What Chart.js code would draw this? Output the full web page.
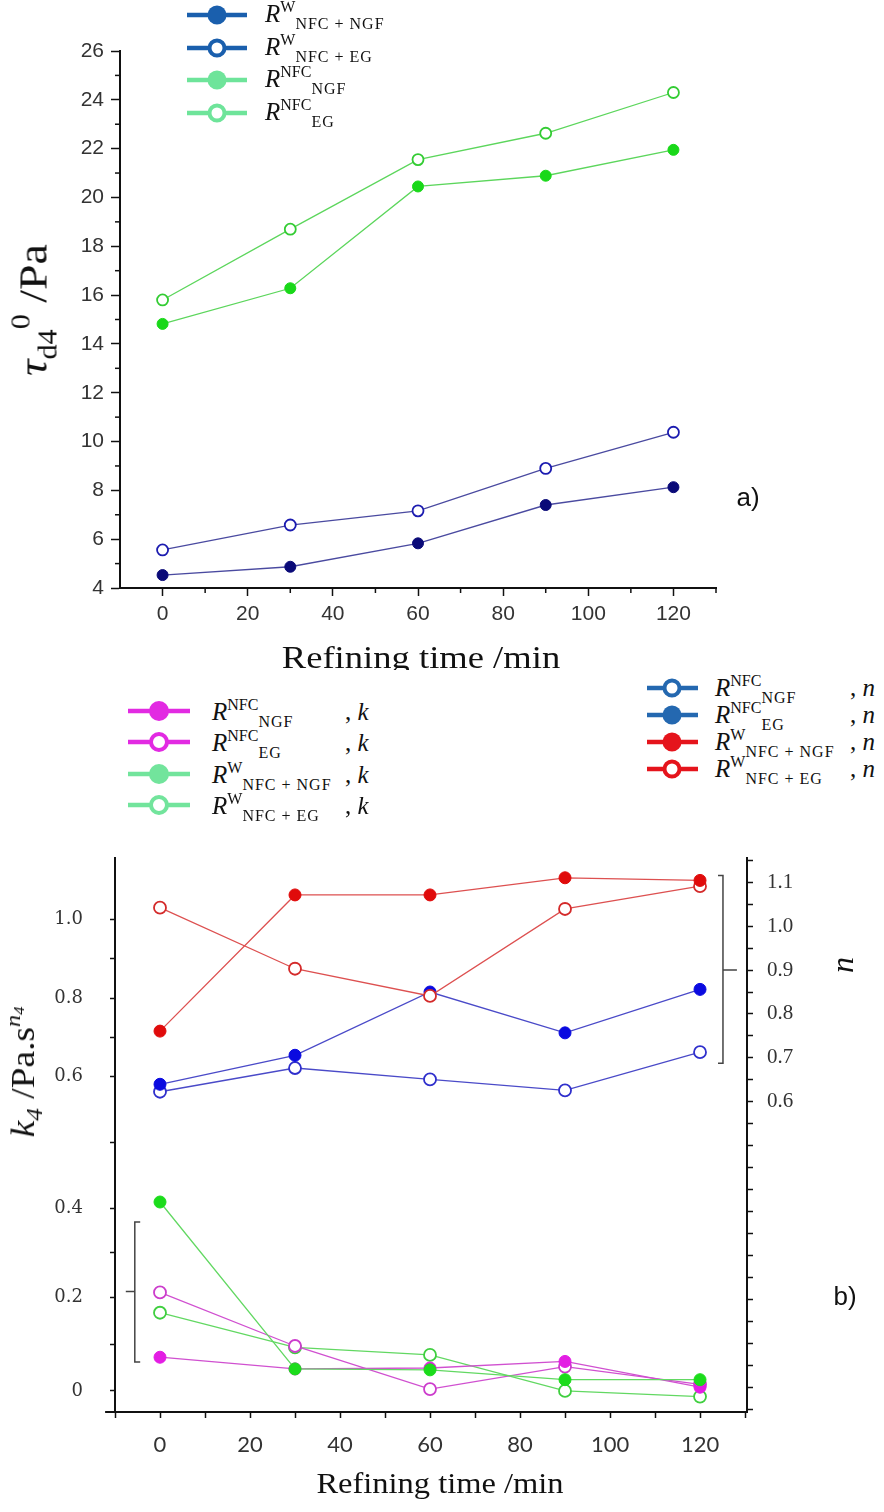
<!DOCTYPE html>
<html>
<head>
<meta charset="utf-8">
<script src="https://cdn.jsdelivr.net/npm/chart.js@4.4.0/dist/chart.umd.min.js"></script>
<style>
  body { margin: 0; background: #fff; }
  #page { position: relative; width: 884px; height: 1512px; overflow: hidden; background: #fff;
          font-family: 'Liberation Serif', 'Times New Roman', serif; color: #111; }
  canvas { position: absolute; left: 0; }
  #topChart { top: 0; }
  #botChart { top: 820px; }
  .lbl { position: absolute; font-size: 25px; line-height: 30px; white-space: nowrap; }
  .sup { font-size: 16px; position: relative; top: -10px; }
  .sub { font-size: 16px; position: relative; top: 7px; letter-spacing: 1px; }
  .title { position: absolute; white-space: nowrap; line-height: 1; }
  .clip { position: absolute; left: 0; width: 884px; overflow: hidden; }
</style>
</head>
<body>
<div id="page">
  <canvas id="topChart" width="884" height="640"></canvas>
  <canvas id="botChart" width="884" height="650"></canvas>

  <div class="clip" style="top:636px;height:34px;">
    <div class="title" style="left:421px;top:6px;font-size:31px;transform:translateX(-50%) scaleX(1.18);">Refining time /min</div>
  </div>
  <div class="title" style="left:440px;top:1469px;font-size:29px;transform:translateX(-50%) scaleX(1.12);">Refining time /min</div>

  <div class="title" style="left:33px;top:310px;font-size:41px;transform:translate(-50%,-50%) rotate(-90deg) scaleX(1.12);"><i>τ</i><span style="font-size:27px;position:relative;top:10px;">d4</span><span style="font-size:27px;position:relative;top:-17px;">0</span> /Pa</div>
  <div class="title" style="left:23px;top:1072px;font-size:34px;transform:translate(-50%,-50%) rotate(-90deg) scaleX(1.1);"><i>k</i><span style="font-size:23px;position:relative;top:8px;"><i>4</i></span> /Pa.s<span style="font-size:22px;position:relative;top:-14px;"><i>n</i><span style="font-size:15px;position:relative;top:4px;"><i>4</i></span></span></div>
  <div class="title" style="left:842px;top:965px;font-size:32px;transform:translate(-50%,-50%) rotate(-90deg);"><i>n</i></div>

  <div class="title" style="left:748px;top:497px;font-size:26px;font-family:'Liberation Sans',Arial,sans-serif;transform:translate(-50%,-50%);">a)</div>
  <div class="title" style="left:845px;top:1296px;font-size:26px;font-family:'Liberation Sans',Arial,sans-serif;transform:translate(-50%,-50%);">b)</div>
</div>

<script>
// ===== DATA =====
const times = [0, 30, 60, 90, 120];

// panel a) yield stress
const tauWNgf   = [4.53, 4.87, 5.83, 7.40, 8.13];
const tauWEg    = [5.56, 6.58, 7.16, 8.90, 10.38];
const tauNfcNgf = [14.82, 16.28, 20.45, 20.89, 21.95];
const tauNfcEg  = [15.80, 18.70, 21.55, 22.63, 24.30];

// panel b) consistency index k
const kNfcNgf = [0.072, 0.047, 0.049, 0.063, 0.008];
const kNfcEg  = [0.211, 0.096, 0.004, 0.052, 0.014];
const kWNgf   = [0.41, 0.047, 0.045, 0.024, 0.024];
const kWEg    = [0.167, 0.093, 0.077, 0.000, -0.012];

// panel b) flow index n
const nNfcNgf = [0.623, 0.677, 0.651, 0.626, 0.713];
const nNfcEg  = [0.640, 0.706, 0.850, 0.757, 0.856];
const nWNgf   = [0.761, 1.071, 1.071, 1.110, 1.104];
const nWEg    = [1.042, 0.903, 0.841, 1.039, 1.091];

// tick labels
const xTickLabels = [0, 20, 40, 60, 80, 100, 120];
const tauTickLabels = [4, 6, 8, 10, 12, 14, 16, 18, 20, 22, 24, 26];
const kTickLabels = ['0', '0.2', '0.4', '0.6', '0.8', '1.0'];
const nTickLabels = ['0.6', '0.7', '0.8', '0.9', '1.0', '1.1'];

// legend names
const tauSup = ['W', 'W', 'NFC', 'NFC'];
const tauSub = ['NFC + NGF', 'NFC + EG', 'NGF', 'EG'];
const kSup = ['NFC', 'NFC', 'W', 'W'];
const kSub = ['NGF', 'EG', 'NFC + NGF', 'NFC + EG'];
const nSup = ['NFC', 'NFC', 'W', 'W'];
const nSub = ['NGF', 'EG', 'NFC + NGF', 'NFC + EG'];

// left axis of b) is drawn with uneven spacing in the original figure
const kAxisBreakValues = [0, 0.2, 0.4, 0.6, 0.8, 1.0];
const kAxisBreakFrac   = [0.038, 0.207, 0.367, 0.605, 0.746, 0.889];

// ===== HELPERS =====
const pts = arr => times.map((t, i) => ({ x: t, y: arr[i] }));
const range = (a, b, s) => { const out = []; for (let v = a; v <= b + 1e-9; v += s) out.push(Math.round(v * 1000) / 1000); return out; };

function interp(v, xs, ys) {
  let i = 0;
  if (v <= xs[0]) i = 0;
  else if (v >= xs[xs.length - 1]) i = xs.length - 2;
  else while (v > xs[i + 1]) i++;
  return ys[i] + (v - xs[i]) * (ys[i + 1] - ys[i]) / (xs[i + 1] - xs[i]);
}

class BrokenScale extends Chart.LinearScale {
  getPixelForValue(value) {
    if (value === null || value === undefined || isNaN(value)) return NaN;
    return this.getPixelForDecimal(interp(value, kAxisBreakValues, kAxisBreakFrac));
  }
  getValueForPixel(pixel) {
    return interp(this.getDecimalForPixel(pixel), kAxisBreakFrac, kAxisBreakValues);
  }
}
BrokenScale.id = 'broken';
BrokenScale.defaults = Chart.LinearScale.defaults;
Chart.register(BrokenScale);

function series(label, data, color, line, filled, yAxisID, r) {
  return {
    label, data: pts(data), yAxisID,
    borderColor: line, borderWidth: 1.3,
    pointBackgroundColor: filled ? color : '#fff',
    pointBorderColor: color, pointBorderWidth: filled ? 1 : 1.8,
    pointRadius: r, pointHoverRadius: r,
    tension: 0, clip: false
  };
}

// minor ticks (panel a)
const minorTicks = {
  id: 'minorTicks',
  afterDraw(chart, args, opts) {
    const ctx = chart.ctx;
    ctx.save();
    ctx.strokeStyle = '#111';
    ctx.lineWidth = 1.5;
    (opts.list || []).forEach(m => {
      const sc = chart.scales[m.axis];
      m.values.forEach(v => {
        const p = sc.getPixelForValue(v);
        ctx.beginPath();
        if (sc.isHorizontal()) { ctx.moveTo(p, sc.top); ctx.lineTo(p, sc.top + m.len); }
        else { ctx.moveTo(sc.right, p); ctx.lineTo(sc.right - m.len, p); }
        ctx.stroke();
      });
    });
    ctx.restore();
  }
};

// brackets grouping the k and n curves, plus the x axis stub left of the k axis (panel b)
const brackets = {
  id: 'brackets',
  afterDraw(chart, args, opts) {
    const ctx = chart.ctx;
    const xs = chart.scales.x;
    ctx.save();
    ctx.strokeStyle = '#111';
    ctx.lineWidth = 2;
    ctx.beginPath();
    ctx.moveTo(xs.getPixelForValue(opts.stubFrom), xs.top);
    ctx.lineTo(xs.left, xs.top);
    ctx.stroke();
    ctx.strokeStyle = '#444';
    ctx.lineWidth = 1.5;
    (opts.list || []).forEach(b => {
      const ys = chart.scales[b.axis];
      const x = xs.getPixelForValue(b.x), xh = xs.getPixelForValue(b.hook), xt = xs.getPixelForValue(b.tip);
      const y1 = ys.getPixelForValue(b.y1), y2 = ys.getPixelForValue(b.y2), yt = ys.getPixelForValue(b.yTip);
      ctx.beginPath();
      ctx.moveTo(xh, y1); ctx.lineTo(x, y1); ctx.lineTo(x, y2); ctx.lineTo(xh, y2);
      ctx.moveTo(x, yt); ctx.lineTo(xt, yt);
      ctx.stroke();
    });
    ctx.restore();
  }
};

const axisLine = { display: true, color: '#111', width: 2 };
const sansNarrow = "'Liberation Sans Narrow', 'Liberation Sans', Arial, sans-serif";

// ===== PANEL A =====
new Chart(document.getElementById('topChart'), {
  type: 'line',
  data: {
    datasets: [
      series('tauWNgf', tauWNgf, '#0a0a78', '#4a4aa0', true, 'y', 5.5),
      series('tauWEg', tauWEg, '#1c1cb0', '#4a4aa0', false, 'y', 5.5),
      series('tauNfcNgf', tauNfcNgf, '#19d819', '#5cd65c', true, 'y', 5.5),
      series('tauNfcEg', tauNfcEg, '#33cc33', '#5cd65c', false, 'y', 5.5)
    ]
  },
  options: {
    responsive: false,
    animation: false,
    layout: { padding: { top: 51, right: 168, left: 0, bottom: 0 } },
    plugins: {
      legend: { display: false },
      tooltip: { enabled: false },
      minorTicks: {
        list: [
          { axis: 'x', values: [10, 30, 50, 70, 90, 110, 130], len: 5 },
          { axis: 'y', values: range(5, 25, 2), len: 5 }
        ]
      }
    },
    scales: {
      x: {
        type: 'linear', min: -10, max: 130,
        afterBuildTicks: s => { s.ticks = xTickLabels.map(v => ({ value: v })); },
        afterFit: s => { s.height = 52; },
        border: axisLine,
        grid: { drawOnChartArea: false, tickLength: 8, tickColor: '#111', tickWidth: 1.5 },
        ticks: { autoSkip: false, maxRotation: 0, padding: 6, color: '#333',
                 font: { family: sansNarrow, size: 21 }, callback: v => String(v) }
      },
      y: {
        type: 'linear', min: 4, max: 26,
        afterBuildTicks: s => { s.ticks = tauTickLabels.map(v => ({ value: v })); },
        afterFit: s => { s.width = 120; },
        border: axisLine,
        grid: { drawOnChartArea: false, tickLength: 9, tickColor: '#111', tickWidth: 1.5 },
        ticks: { autoSkip: false, padding: 7, color: '#333',
                 font: { family: sansNarrow, size: 21 }, callback: v => String(v) }
      }
    }
  },
  plugins: [minorTicks]
});

// ===== PANEL B =====
new Chart(document.getElementById('botChart'), {
  type: 'line',
  data: {
    datasets: [
      series('nWNgf', nWNgf, '#e00b0b', '#dd5050', true, 'yn', 6),
      series('nWEg', nWEg, '#d42a2a', '#dd5050', false, 'yn', 6),
      series('nNfcEg', nNfcEg, '#0a0ae0', '#4a4ac8', true, 'yn', 6),
      series('nNfcNgf', nNfcNgf, '#2f2fcc', '#4a4ac8', false, 'yn', 6),
      series('kWNgf', kWNgf, '#1bdc1b', '#62d862', true, 'yk', 6),
      series('kNfcNgf', kNfcNgf, '#e31de3', '#d050d0', true, 'yk', 6),
      series('kNfcEg', kNfcEg, '#cc3ccc', '#d050d0', false, 'yk', 6),
      series('kWEg', kWEg, '#3fcf3f', '#62d862', false, 'yk', 6)
    ]
  },
  options: {
    responsive: false,
    animation: false,
    layout: { padding: { top: 17, right: 0, left: 0, bottom: 0 } },
    plugins: {
      legend: { display: false },
      tooltip: { enabled: false },
      brackets: {
        stubFrom: -12.2,
        list: [
          { axis: 'yn', x: 125.1, hook: 124.0, tip: 128.2, y1: 1.115, y2: 0.688, yTip: 0.9 },
          { axis: 'yk', x: -5.6, hook: -4.4, tip: -7.6, y1: 0.37, y2: 0.062, yTip: 0.213 }
        ]
      }
    },
    scales: {
      x: {
        type: 'linear', min: -10, max: 130.44,
        afterBuildTicks: s => { s.ticks = range(-10, 130, 10).map(v => ({ value: v })); },
        afterFit: s => { s.height = 58; },
        border: axisLine,
        grid: { drawOnChartArea: false, tickLength: 6, tickColor: '#111', tickWidth: 1.5 },
        ticks: { autoSkip: false, maxRotation: 0, padding: 14, color: '#333',
                 font: { family: "Lato, 'Open Sans', sans-serif", size: 22 },
                 callback: v => xTickLabels.includes(v) ? String(v) : '' }
      },
      yk: {
        type: 'broken', position: 'left', min: -0.05, max: 1.2,
        afterBuildTicks: s => { s.ticks = range(0, 1.0, 0.1).map(v => ({ value: v })); },
        afterFit: s => { s.width = 115; },
        border: axisLine,
        grid: { drawOnChartArea: false, tickLength: 5, tickColor: '#111', tickWidth: 1.5 },
        ticks: { autoSkip: false, padding: 27, color: '#333',
                 font: { family: "'DejaVu Serif', serif", size: 18 },
                 callback: (v, i) => (i % 2 === 0 ? kTickLabels[i / 2] : '') }
      },
      yn: {
        type: 'linear', position: 'right', min: -0.106, max: 1.1555,
        afterBuildTicks: s => { s.ticks = range(-0.1, 1.15, 0.05).map(v => ({ value: v })); },
        afterFit: s => { s.width = 137; },
        border: axisLine,
        grid: { drawOnChartArea: false, tickLength: 6, tickColor: '#111', tickWidth: 1.5 },
        ticks: { autoSkip: false, padding: 14, color: '#333',
                 font: { family: "'Liberation Serif', serif", size: 21 },
                 callback: v => { const s = v.toFixed(2); return (s.endsWith('0') && nTickLabels.includes(v.toFixed(1))) ? v.toFixed(1) : ''; } }
      }
    }
  },
  plugins: [brackets]
});

// ===== LEGENDS (html, for the sub/superscripts) =====
function buildLegend(sup, sub, colors, filled, cfg) {
  const page = document.getElementById('page');
  sup.forEach((s, i) => {
    const cy = cfg.y0 + i * cfg.dy;
    const w = cfg.x1 - cfg.x0;
    const cx = cfg.cx - cfg.x0;
    const circle = filled[i]
      ? `<circle cx="${cx}" cy="15" r="${cfg.r}" fill="${colors[i]}"/>`
      : `<circle cx="${cx}" cy="15" r="${cfg.r - 2}" fill="#fff" stroke="${colors[i]}" stroke-width="4"/>`;
    page.insertAdjacentHTML('beforeend',
      `<svg style="position:absolute;left:${cfg.x0}px;top:${cy - 15}px" width="${w}" height="30">
         <line x1="0" y1="15" x2="${w}" y2="15" stroke="${colors[i]}" stroke-width="4.5"/>${circle}</svg>`);
    page.insertAdjacentHTML('beforeend',
      `<div class="lbl" style="left:${cfg.textX}px;top:${cy - 15 + cfg.dyText}px"><i>R</i><span class="sup">${s}</span><span class="sub">${sub[i]}</span></div>`);
    if (cfg.suffix) {
      page.insertAdjacentHTML('beforeend',
        `<div class="lbl" style="left:${cfg.sufX}px;top:${cy - 15 + cfg.dyText}px">, <i>${cfg.suffix}</i></div>`);
    }
  });
}

buildLegend(tauSup, tauSub, ['#1a5fad', '#1a5fad', '#6ee49a', '#6ee49a'], [true, false, true, false],
  { x0: 187, x1: 247, cx: 217, r: 9.5, y0: 15, dy: 32.5, textX: 265, dyText: -1 });
buildLegend(kSup, kSub, ['#e22ae2', '#e22ae2', '#72e49c', '#72e49c'], [true, false, true, false],
  { x0: 128, x1: 190, cx: 159, r: 10, y0: 711, dy: 31.3, textX: 212, dyText: 1, suffix: 'k', sufX: 345 });
buildLegend(nSup, nSub, ['#2468b0', '#2468b0', '#e5141c', '#e5141c'], [false, true, true, false],
  { x0: 647, x1: 698, cx: 672, r: 9.5, y0: 688, dy: 27, textX: 715, dyText: 0, suffix: 'n', sufX: 850 });
</script>
</body>
</html>
